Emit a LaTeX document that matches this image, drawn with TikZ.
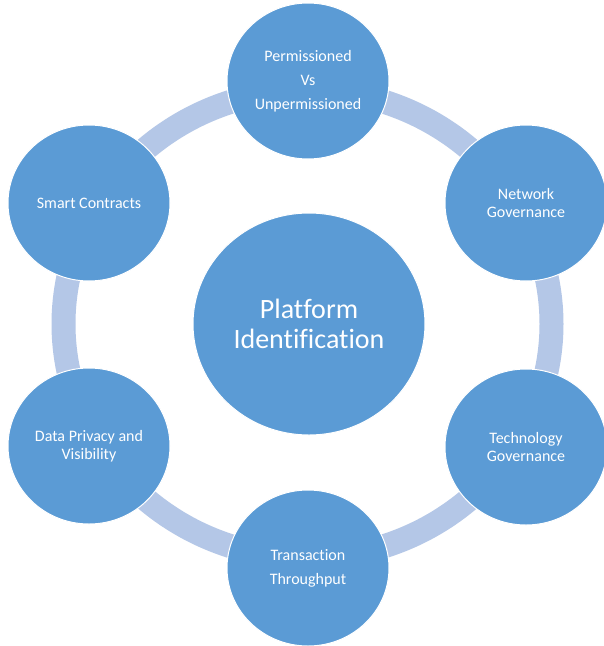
\documentclass[tikz,border=0pt]{standalone}
\usepackage{fontspec}
\setmainfont{Carlito}[Ligatures={NoCommon,NoContextual}]
\usetikzlibrary{shapes.geometric}
\definecolor{discblue}{HTML}{5B9BD5}
\definecolor{ringblue}{HTML}{B4C7E7}
\tikzset{
  disc/.style={ellipse, fill=discblue, draw=white, line width=1pt, inner sep=0pt,
    minimum width=162pt, minimum height=156pt, text=white, align=center,
    font=\fontsize{16}{17.5}\selectfont},
  widedisc/.style={disc, font=\fontsize{16}{24}\selectfont},
  hubdisc/.style={disc, minimum width=232pt, minimum height=222pt,
    font=\fontsize{28}{30}\selectfont},
  ring/.style={draw=ringblue, line width=24pt}
}
\begin{document}
\begin{tikzpicture}[x=1pt, y=-1pt]
  \clip (0,0) rectangle (604,646);
  \fill[white] (0,0) rectangle (604,646);
  % connecting ring behind the discs
  \draw[ring] (307.5,324) ellipse [x radius=244, y radius=234];
  % outer discs
  \node[widedisc] (perm)  at (308,81)  {Permissioned\\Vs\\Unpermissioned};
  \node[disc]     (netgov) at (526,203) {Network\\Governance};
  \node[disc]     (techgov) at (526,447) {Technology\\Governance};
  \node[widedisc] (tput)  at (308,568) {Transaction\\Throughput};
  \node[disc]     (priv)  at (89,446)  {Data Privacy and\\Visibility};
  \node[disc]     (smart) at (89,203)  {Smart Contracts};
  % central disc
  \node[hubdisc]  (hub)   at (309,324) {Platform\\Identification};
\end{tikzpicture}
\end{document}
